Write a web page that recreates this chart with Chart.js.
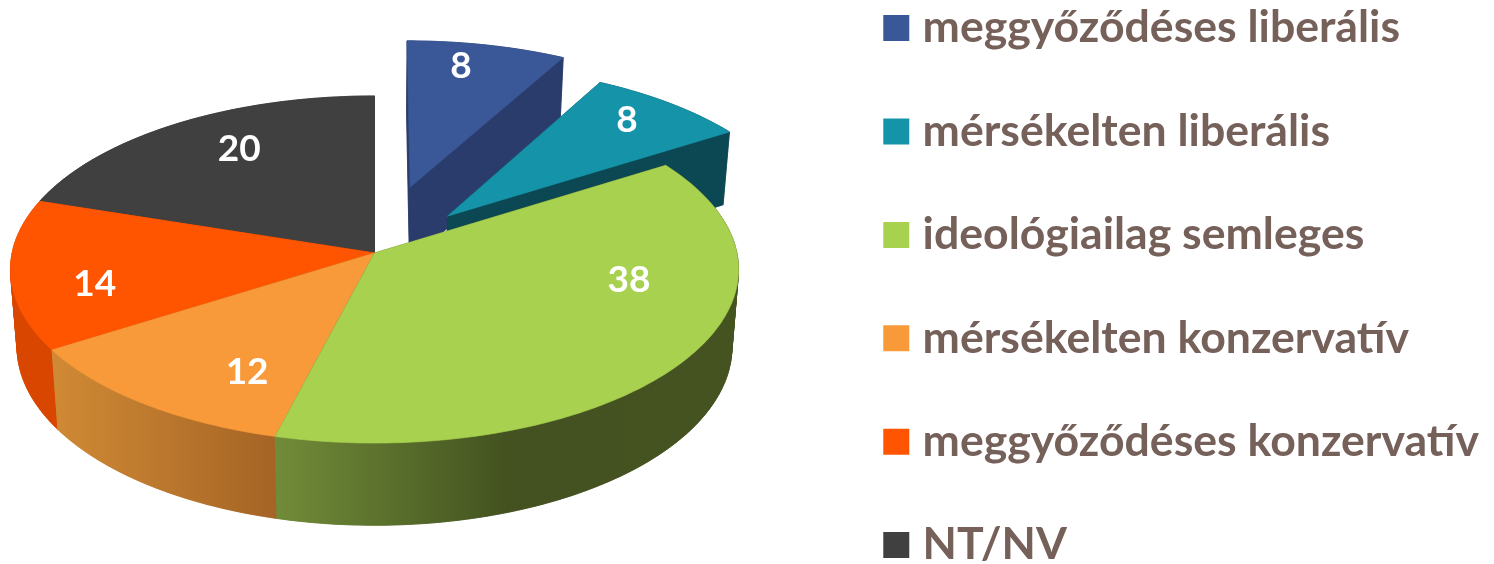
<!DOCTYPE html>
<html><head><meta charset="utf-8">
<style>html,body{margin:0;padding:0;width:1494px;height:564px;overflow:hidden;background:#fff}
#wrap{position:absolute;left:0;top:-53px;width:1494px;height:690px}</style>
<script src="https://cdn.jsdelivr.net/npm/chart.js@4"></script>
</head><body><div id="wrap"><canvas id="c" width="1494" height="690" style="display:block"></canvas></div>
<script>
const categories=['meggyőződéses liberális','mérsékelten liberális','ideológiailag semleges','mérsékelten konzervatív','meggyőződéses konzervatív','NT/NV'];
const values=[8,8,38,12,14,20];
const exploded=[41,30,0,0,0,0];
const topColors=['#3a5897','#1593a8','#a8d14f','#f89a39','#ff5500','#404040'];
const wallShades=[[[0,'#2a3c6b'],[1,'#2a3c6b']],[[0,'#0c4853'],[1,'#0c4853']],[[0,'#718c38'],[.5,'#435220'],[1,'#445320']],[[0,'#d08a35'],[1,'#a56425']],[[0,'#d94600'],[1,'#d94600']],[[0,'#2c2c2c'],[1,'#2c2c2c']]];
const labelPlace=[[.832,-3],[.823,-1.6],[.709,-23.3],[.729,-9.1],[.78,-6.1],[.753,4.3]];
const drawOrder=[0,1,5,4,3,2];
const TOPSHIFT=53,HX=374.5,HY=253+TOPSHIFT,A=362.4,B=172,K=0.095,DEPTH=76.5,SY=1.03,SX=0.982;
function proj(u,v){const w=1-K*v;return [HX+A*u/w,HY+B*v/w];}
function low(p){return [HX+SX*(p[0]-HX),p[1]+DEPTH+(p[1]-HY)*(SY-1)];}
function poly(ctx,pts){ctx.beginPath();pts.forEach((p,i)=>i?ctx.lineTo(p[0],p[1]):ctx.moveTo(p[0],p[1]));ctx.closePath();}
const pie3d={id:'pie3d',beforeDatasetsDraw(chart){
  const ctx=chart.ctx,arcs=chart.getDatasetMeta(0).data;
  ctx.save();ctx.lineJoin='round';
  const faces=[];
  drawOrder.forEach(i=>{
    const el=arcs[i],a0=el.startAngle,a1=el.endAngle,mid=(a0+a1)/2,e=el.options.offset/100;
    const ox=e*Math.cos(mid),oy=e*Math.sin(mid);
    const n=Math.max(2,Math.ceil((a1-a0)*60));
    const rim=[];
    for(let s=0;s<=n;s++){const a=a0+(a1-a0)*s/n;rim.push(proj(ox+Math.cos(a),oy+Math.sin(a)));}
    const hub=proj(ox,oy),outline=[hub,...rim];
    const xs=rim.map(p=>p[0]),x0=Math.min(...xs),x1=Math.max(...xs);
    const g=ctx.createLinearGradient(x0,0,x1,0);
    wallShades[i].forEach(s=>g.addColorStop(s[0],s[1]));
    ctx.fillStyle=g;ctx.strokeStyle=g;ctx.lineWidth=.6;
    poly(ctx,outline.map(low));ctx.fill();ctx.stroke();
    for(let s=0;s<outline.length;s++){
      const p=outline[s],q=outline[(s+1)%outline.length];
      poly(ctx,[p,q,low(q),low(p)]);ctx.fill();ctx.stroke();
    }
    ctx.fillStyle=topColors[i];ctx.strokeStyle=topColors[i];
    poly(ctx,outline);ctx.fill();ctx.stroke();
    const r=labelPlace[i][0],am=mid+labelPlace[i][1]*Math.PI/180;
    faces.push([String(values[i]),proj(ox+r*Math.cos(am),oy+r*Math.sin(am))]);
  });
  ctx.fillStyle='#fff';ctx.font='bold 37px Lato';ctx.textAlign='center';ctx.textBaseline='middle';
  faces.forEach(f=>ctx.fillText(f[0],f[1][0],f[1][1]));
  ctx.restore();
  return false;
}};
new Chart(document.getElementById('c'),{type:'pie',
 data:{labels:categories,datasets:[{data:values,backgroundColor:topColors,borderWidth:0,offset:exploded,hoverOffset:0}]},
 options:{responsive:false,animation:false,
  layout:{padding:{top:0,right:5,bottom:0,left:0}},
  plugins:{tooltip:{enabled:false},
   legend:{position:'right',align:'start',
    labels:{color:'#75605a',font:{family:'Lato',weight:'bold',size:44.6},boxWidth:8,boxHeight:8,padding:58.8,
     generateLabels(chart){return Chart.overrides.doughnut.plugins.legend.labels.generateLabels(chart).map((it,i)=>({...it,strokeStyle:topColors[i],lineWidth:18,lineJoin:'miter'}));}}}}},
 plugins:[pie3d]});
</script></body></html>
